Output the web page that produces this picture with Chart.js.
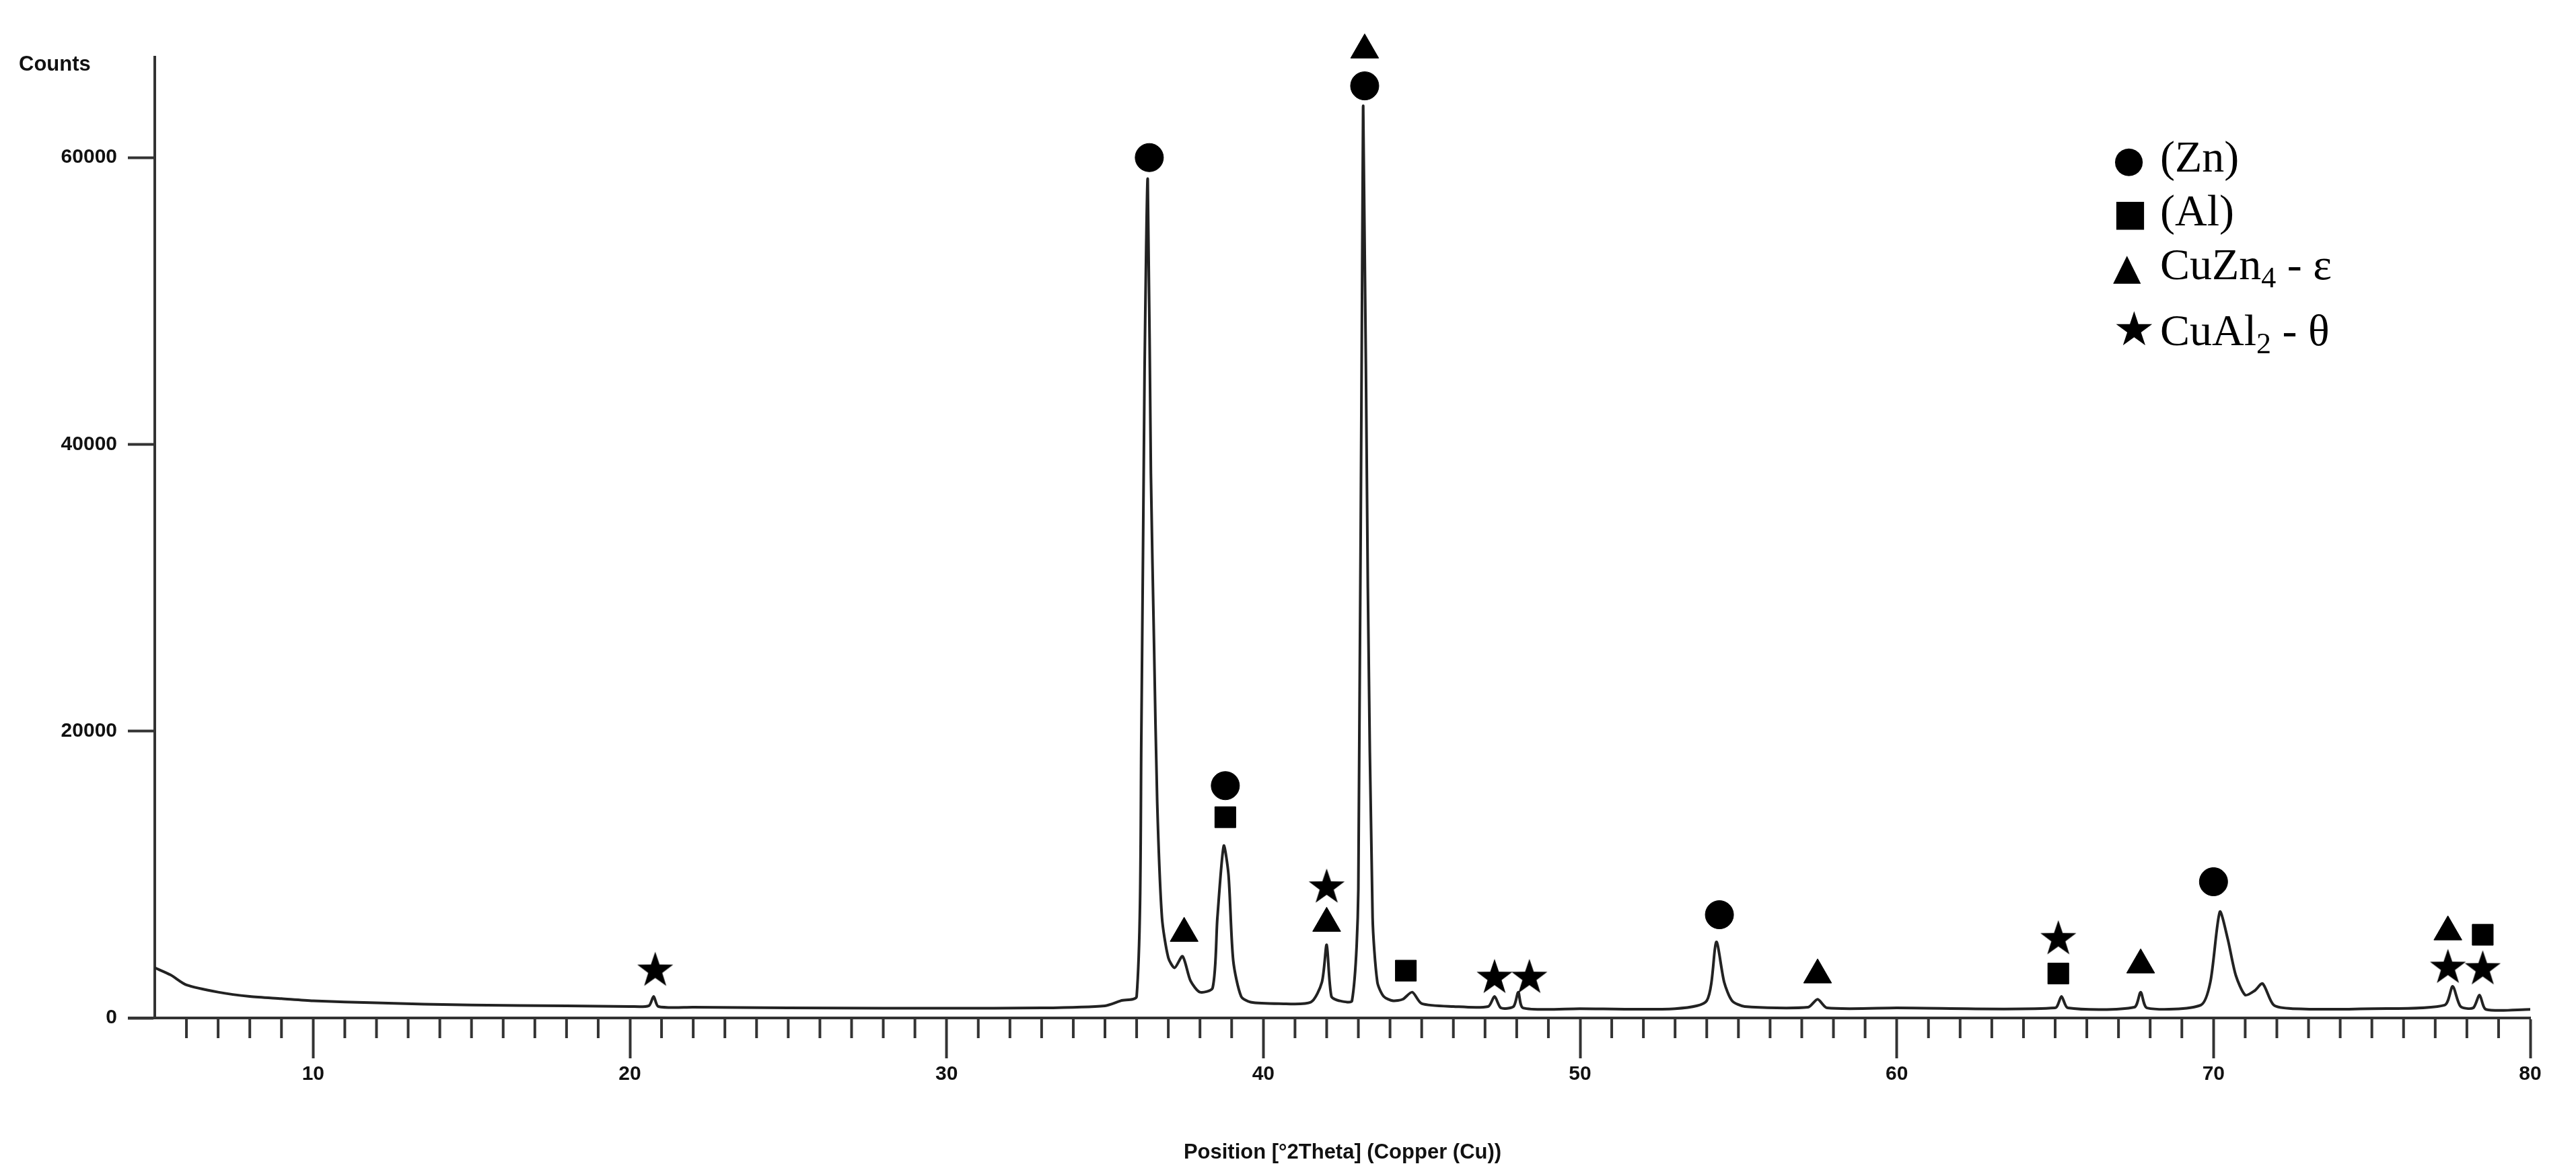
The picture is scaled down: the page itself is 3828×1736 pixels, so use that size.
<!DOCTYPE html>
<html><head><meta charset="utf-8">
<script src="https://cdn.jsdelivr.net/npm/chart.js@4"></script>
<style>
html,body{margin:0;padding:0;background:#fff;}
#wrap{position:relative;width:3828px;height:1736px;}
#legend{position:absolute;left:3140px;top:195px;font-family:"Liberation Serif","Times New Roman",serif;font-size:66px;line-height:76px;color:#000;}
#legend div{white-space:nowrap;}
#legend span.m{display:inline-block;width:70px;font-family:"DejaVu Sans";font-size:54px;}
#legend span.s{font-size:70px;}
#legend sub{font-size:44px;vertical-align:-12px;}
</style></head><body>
<div id="wrap"><canvas id="c" width="3828" height="1736"></canvas>
<div id="legend">
<div><span class="m">●</span>(Zn)</div>
<div><span class="m">■</span>(Al)</div>
<div><span class="m">▲</span>CuZn<sub>4</sub> - ε</div>
<div><span class="m s">★</span>CuAl<sub>2</sub> - θ</div>
</div></div>
<script>
const twoTheta = [5,5.5,6,7,8,9,10,12,15,18,20,20.6,20.75,20.9,22,25,28,30,33,35,35.5,36.0,36.15,36.25,36.35,36.45,36.55,36.65,36.8,37.0,37.2,37.45,37.7,38.0,38.4,38.55,38.75,38.9,39.05,39.3,39.6,40.5,41.5,41.85,42.0,42.15,42.4,42.8,43.0,43.15,43.3,43.45,43.6,43.8,44.1,44.4,44.7,45.0,46,47.1,47.3,47.5,47.9,48.05,48.2,50,53,54.0,54.3,54.55,54.8,55.2,57.2,57.5,57.8,60,65.0,65.2,65.4,67.5,67.7,67.9,69.6,69.9,70.2,70.45,70.7,71.0,71.3,71.55,71.9,72.5,75,77.3,77.55,77.8,78.2,78.4,78.6,80];
const counts = [3500,3000,2300,1800,1500,1350,1200,1050,900,850,800,850,1500,800,750,700,680,680,700,850,1200,1500,20000,45000,58500,38000,26000,15000,7000,4200,3500,4300,2600,1800,2100,7000,12000,10000,4000,1500,1100,1000,1100,2500,5100,1500,1200,1200,9000,63500,30000,7000,2500,1500,1200,1300,1800,1000,800,800,1500,700,800,1800,700,650,650,1200,5300,2500,1200,800,750,1300,700,700,700,1500,700,750,1800,700,900,2500,7400,5500,3000,1600,1900,2400,900,650,650,900,2200,800,700,1600,600,600];

const circleX=[36.4,38.8,43.2,54.4,70.0], circleY=[60000,16200,65000,7200,9500];
const squareX=[38.8,44.5,65.1,78.5], squareY=[14000,3300,3100,5800];
const triX=[37.5,42.0,43.2,57.5,67.7,77.4], triY=[5900,6600,67500,3000,3700,6000];
const starX=[20.8,42.0,47.3,48.4,65.1,77.4,78.5], starY=[3400,9200,2900,2900,5600,3600,3500];
const yTicks=[0,20000,40000,60000];
const xTicks=[10,20,30,40,50,60,70,80];

function pts(xs,ys){return xs.map((x,i)=>({x:x,y:ys[i]}));}
const star=document.createElement('canvas');star.width=56;star.height=56;
(function(){const g=star.getContext('2d');g.fillStyle='#000';g.beginPath();
for(let i=0;i<10;i++){const r=i%2?11:28;const a=-Math.PI/2+i*Math.PI/5;g.lineTo(28+r*Math.cos(a),30+r*Math.sin(a));}
g.closePath();g.fill();})();

const AX='#333';
const minorTicks={id:'minor',afterDraw(ch){const s=ch.scales.x,g=ch.ctx,b=ch.chartArea.bottom;
g.save();g.strokeStyle=AX;g.lineWidth=4;g.beginPath();
for(let v=6;v<80;v++){if(v%10===0)continue;const p=s.getPixelForValue(v);g.moveTo(p,b);g.lineTo(p,b+30);}
g.moveTo(ch.chartArea.left-40,b);g.lineTo(ch.chartArea.left,b);
g.stroke();g.restore();}};

new Chart(document.getElementById('c'),{
 type:'scatter',
 data:{datasets:[
  {type:'line',data:pts(twoTheta,counts),borderColor:'#222',borderWidth:4,pointRadius:0,tension:0.25,fill:false,order:2},
  {data:pts(circleX,circleY),clip:false,pointStyle:'circle',pointRadius:21,backgroundColor:'#000',borderColor:'#000'},
  {data:pts(squareX,squareY),clip:false,pointStyle:'rect',pointRadius:22,backgroundColor:'#000',borderColor:'#000'},
  {data:pts(triX,triY),clip:false,pointStyle:'triangle',pointRadius:24,backgroundColor:'#000',borderColor:'#000'},
  {data:pts(starX,starY),clip:false,pointStyle:star,pointRadius:28}
 ]},
 options:{responsive:false,animation:false,events:[],
  layout:{padding:{top:85,right:68,left:0,bottom:0}},
  plugins:{legend:{display:false},tooltip:{enabled:false}},
  scales:{
   x:{type:'linear',min:5,max:80,
     afterBuildTicks(s){s.ticks=xTicks.map(v=>({value:v}));},
     afterFit(s){s.height=223;},
     border:{color:AX,width:4},
     grid:{display:true,drawOnChartArea:false,drawTicks:true,tickLength:60,tickWidth:4,tickColor:AX},
     ticks:{color:'#111',padding:6,font:{family:'Liberation Sans',size:30,weight:'bold'},maxRotation:0,callback:v=>String(v)},
     title:{display:true,text:'Position [°2Theta] (Copper (Cu))',color:'#111',font:{family:'Liberation Sans',size:31,weight:'bold'},padding:{top:0}}},
   y:{min:0,max:67000,
     afterBuildTicks(s){s.ticks=yTicks.map(v=>({value:v}));},
     afterFit(s){s.width=230;},
     border:{color:AX,width:4},
     grid:{display:true,drawOnChartArea:false,drawTicks:true,tickLength:40,tickWidth:4,tickColor:AX},
     ticks:{color:'#111',padding:16,font:{family:'Liberation Sans',size:30,weight:'bold'},callback:v=>String(v)},
     title:{display:false}}
  }},
 plugins:[minorTicks,{id:'counts',afterDraw(ch){const g=ch.ctx;g.save();g.fillStyle='#111';g.font='bold 31px "Liberation Sans"';g.textBaseline='middle';g.fillText('Counts',28,96);g.restore();}}]
});
</script></body></html>
